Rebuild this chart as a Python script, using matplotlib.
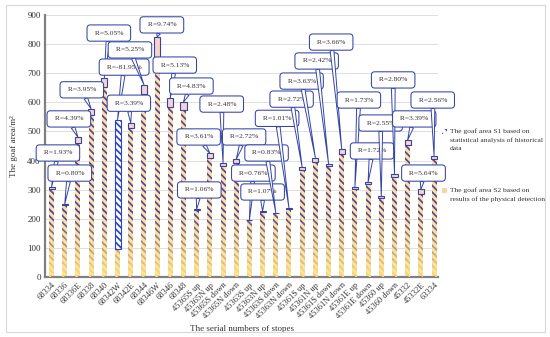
import matplotlib
matplotlib.use("Agg")
import matplotlib.pyplot as plt
import numpy as np
from matplotlib.patches import Rectangle
from matplotlib.colors import to_rgb

categories = ["68334", "68336", "68336E", "68338", "68340", "68342W", "68342E", "68344",
              "68346W", "68346", "68348", "45365S up", "45365N up", "45365S down",
              "45365N down", "45363S up", "45363N up", "45363S down", "45363N down",
              "45361S up", "45361N up", "45361S down", "45361N down", "45361E up",
              "45361E down", "45360 up", "45360 down", "45332", "45332E", "63334"]
# S2: physical detection; S1: statistical analysis
s2 = [304, 249, 460, 555, 652, 540, 512, 628, 752, 585, 573, 230, 410, 383, 393,
      195, 224, 219, 234, 367, 396, 380, 424, 304, 320, 272, 343, 455, 285, 406]
s1 = [310, 251, 480, 577, 685, 97.5, 529, 661, 825, 615, 601, 232.5, 425, 392.5, 404,
      196.5, 226.4, 220.8, 236.4, 377, 410, 389, 439.5, 309, 325.5, 279, 352.6, 470.4, 301, 416.4]
r_labels = ["1.93%", "0.80%", "4.39%", "3.95%", "5.05%", "-81.95%", "3.39%", "5.25%",
            "9.74%", "5.13%", "4.83%", "1.06%", "3.61%", "2.48%", "2.72%", "0.76%",
            "1.07%", "0.83%", "1.01%", "2.72%", "3.63%", "2.42%", "3.66%", "1.73%",
            "1.72%", "2.55%", "2.80%", "3.39%", "5.64%", "2.56%"]
yticks = [0, 100, 200, 300, 400, 500, 600, 700, 800, 900]

# callout label positions (layout)
callout_pos = [(0.48, 426), (1.38, 357), (1.31, 543), (2.29, 643), (4.34, 838),
               (5.5, 721), (5.86, 597), (5.94, 780), (8.36, 866), (9.34, 728),
               (10.6, 656), (11.2, 299), (11.15, 481), (12.9, 594), (14.6, 481),
               (15.3, 357), (16.0, 292), (16.3, 426), (17.1, 545), (18.2, 611),
               (18.96, 673), (20.1, 742), (21.2, 807), (23.3, 608), (24.3, 433),
               (24.95, 529), (25.9, 677), (27.5, 543), (28.2, 357), (28.9, 608)]

plt.rcParams['font.family'] = ['Liberation Serif', 'DejaVu Serif']
plt.rcParams['hatch.linewidth'] = 1.25

fig = plt.figure(figsize=(5.5, 3.37), dpi=100)
ax = fig.add_axes([45 / 550, 1 - 277 / 337, (438 - 45) / 550, (277 - 15) / 337])

x = np.arange(len(categories))
s1a = np.array(s1, float)
s2a = np.array(s2, float)
lo = np.minimum(s1a, s2a)
hi = np.maximum(s1a, s2a)
w = 0.38
yellow = '#FDE29A'
purple = np.array(to_rgb('#5345B0'))
yel = np.array(to_rgb('#F7D676'))
blue_edge = '#3444A6'
HATCH = '\\\\\\\\\\'

ax.bar(x, lo, width=w, color=yellow, linewidth=0, zorder=2)
# hatch overlay fading towards the bottom
edges = np.arange(0, 240, 15)
for b0, b1 in zip(edges[:-1], edges[1:]):
    t = np.clip(((b0 + b1) / 2 - 20) / 190, 0, 1)
    col = yel * (1 - t) + purple * t
    h = np.clip(np.minimum(lo, b1) - b0, 0, None)
    ax.bar(x, h, bottom=b0, width=w, facecolor='none', edgecolor=col, linewidth=0,
           hatch=HATCH, zorder=3)
top_b = edges[-1]
h = np.clip(lo - top_b, 0, None)
ax.bar(x, h, bottom=top_b, width=w, facecolor='none', edgecolor=purple, linewidth=0,
       hatch=HATCH, zorder=3)

# difference region
for i in range(len(x)):
    if s1a[i] >= s2a[i]:
        ax.bar(i, s1a[i] - s2a[i], bottom=s2a[i], width=0.46, facecolor='#F9D3CA',
               edgecolor=blue_edge, linewidth=0.8, zorder=4)
    else:
        ax.bar(i, s2a[i] - s1a[i], bottom=s1a[i], width=0.46, facecolor='white',
               edgecolor='#2C45C6', linewidth=0.8, hatch=HATCH, zorder=4)

# callouts
for i in range(len(x)):
    ax.annotate(" R=" + r_labels[i] + " ", xy=(i, hi[i]), xytext=callout_pos[i],
                textcoords='data', ha='center', va='center', fontsize=5.4, color='#333333',
                bbox=dict(boxstyle='round,pad=0.75,rounding_size=0.45', fc='white',
                          ec=blue_edge, lw=0.75),
                arrowprops=dict(arrowstyle='wedge,tail_width=0.5', fc='white',
                                ec=blue_edge, lw=0.7, shrinkA=0, shrinkB=0),
                zorder=10 + i)

ax.set_xlim(-0.5, 29.3)
ax.set_ylim(0, 900)
ax.set_yticks(yticks)
ax.set_yticklabels([str(v) for v in yticks], fontsize=6.5, color='#333333')
ax.set_xticks(x)
ax.set_xticklabels(categories, rotation=45, ha='right', rotation_mode='anchor',
                   fontsize=6, color='#333333')
ax.tick_params(axis='both', length=0, pad=3)
ax.yaxis.grid(True, color='#d9d9d9', lw=0.6)
ax.set_axisbelow(True)
for s in ['top', 'right']:
    ax.spines[s].set_visible(False)
for s in ['left', 'bottom']:
    ax.spines[s].set_color('#808080')
    ax.spines[s].set_linewidth(1.6)

ax.set_ylabel("The goaf area/m²", fontsize=6.5, color='#333333')
ax.yaxis.set_label_coords(-0.069, 0.5)
ax.set_xlabel("The serial numbers of stopes", fontsize=6.5, color='#333333')
ax.xaxis.set_label_coords(0.5, -0.183)

# legend
def fx(px):
    return px / 550
def fy(py):
    return 1 - py / 337

fig.patches.append(Rectangle((fx(442), fy(134)), 5 / 550, 5 / 337, transform=fig.transFigure,
                             facecolor='white', edgecolor='#2C45C6', linewidth=0,
                             hatch='\\\\\\\\'))
fig.patches.append(Rectangle((fx(442), fy(193)), 5 / 550, 5 / 337, transform=fig.transFigure,
                             facecolor='#FBD3A6', edgecolor='none'))
leg1 = ["The goaf area S1 based on", "statistical analysis of historical", "data"]
leg2 = ["The goaf area S2 based on", "results of the physical detection"]
for k, line in enumerate(leg1):
    fig.text(fx(450), fy(131 + 8.7 * k), line, fontsize=5.4, color='#333333', va='center')
for k, line in enumerate(leg2):
    fig.text(fx(450), fy(190 + 8.7 * k), line, fontsize=5.4, color='#333333', va='center')

fig.patches.append(Rectangle((fx(6), fy(332)), (545 - 6) / 550, (332 - 5) / 337,
                             transform=fig.transFigure, fill=False, edgecolor='#d8d8d8',
                             linewidth=0.8))

fig.savefig("out.png", dpi=100)
